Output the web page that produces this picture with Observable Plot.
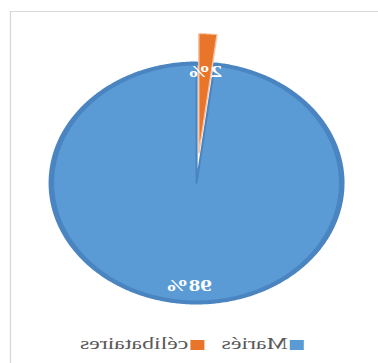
<!DOCTYPE html>
<html>
<head>
<meta charset="utf-8">
<script src="https://cdn.jsdelivr.net/npm/d3@7"></script>
<script src="https://cdn.jsdelivr.net/npm/@observablehq/plot@0.6"></script>
<style>
  html, body { margin: 0; padding: 0; background: #fff; overflow: hidden; width: 378px; height: 363px; }
  #wrap { position: absolute; left: 0; top: 0; width: 270px; height: 363px;
          transform-origin: 0 0; transform: translateX(378px) scale(-1.4, 1); }
  #frame { position: absolute; left: -20px; top: 11px; width: 283px; height: 400px;
           border: 1px solid #d9d9d9; box-sizing: border-box; pointer-events: none; }
  #plot { position: absolute; left: 0; top: 0; }
  .leg { position: absolute; font-family: "Liberation Serif", "Times New Roman", serif;
         font-size: 17px; line-height: 17px; color: #595959; white-space: nowrap; }
  .sw { position: absolute; width: 10px; height: 10px; }
</style>
</head>
<body>
<div id="wrap">
  <div id="plot"></div>
  <div id="legend"></div>
  <div id="frame"></div>
</div>
<script>
// Data
const categories = ["Mariés", "célibataires"];
const values = [98, 2];
const labels = ["98%", "2%"];
const colors = ["#5b9bd5", "#e8752a"];

// Styling / layout
const strokes = ["#4a85c2", "#f6c3a0"];
const explode = [0, 0.25];
const labelRadius = [0.86, 0.93];

const arcs = d3.pie().sort(null).value(d => d)(values);

const fills = [], rims = [], texts = [];
arcs.forEach((a, i) => {
  const mid = (a.startAngle + a.endAngle) / 2;
  const ox = explode[i] * Math.sin(mid), oy = explode[i] * Math.cos(mid);
  const n = Math.max(4, Math.ceil((a.endAngle - a.startAngle) / 0.01));
  const arcPts = [];
  for (let k = 0; k <= n; k++) {
    const t = a.startAngle + (a.endAngle - a.startAngle) * k / n;
    arcPts.push({cat: categories[i], x: ox + Math.sin(t), y: oy + Math.cos(t)});
  }
  fills.push([{cat: categories[i], x: ox, y: oy}, ...arcPts, {cat: categories[i], x: ox, y: oy}]);
  rims.push(arcPts);
  texts.push({label: labels[i], x: labelRadius[i] * Math.sin(mid), y: labelRadius[i] * Math.cos(mid)});
});

const marks = [];
fills.forEach((pts, i) => {
  marks.push(Plot.line(pts, {x: "x", y: "y", fill: colors[i], stroke: strokes[i],
    strokeWidth: i === 0 ? 1.5 : 1, curve: "linear"}));
  if (i === 0) marks.push(Plot.line(rims[i], {x: "x", y: "y", stroke: strokes[i], strokeWidth: 4, curve: "linear"}));
});
marks.push(Plot.text(texts, {x: "x", y: "y", text: "label", fill: "white", fontSize: 16.5,
  fontWeight: "bold", fontFamily: "Liberation Serif"}));

const chart = Plot.plot({
  width: 270, height: 363,
  marginLeft: 25.4, marginRight: 37.2, marginTop: 63, marginBottom: 61,
  x: {domain: [-1, 1], axis: null},
  y: {domain: [-1, 1], axis: null},
  style: {background: "transparent", overflow: "visible"},
  marks
});
document.getElementById("plot").appendChild(chart);

// Legend
const legendPos = [{sw: 52.9, tx: 64.5}, {sw: 123.5, tx: 135.5}];
const legend = document.getElementById("legend");
categories.forEach((c, i) => {
  const s = document.createElement("div");
  s.className = "sw"; s.style.left = legendPos[i].sw + "px"; s.style.top = "340px";
  s.style.background = colors[i];
  legend.appendChild(s);
  const t = document.createElement("div");
  t.className = "leg"; t.style.left = legendPos[i].tx + "px"; t.style.top = "335px";
  t.textContent = c;
  legend.appendChild(t);
});
</script>
</body>
</html>
